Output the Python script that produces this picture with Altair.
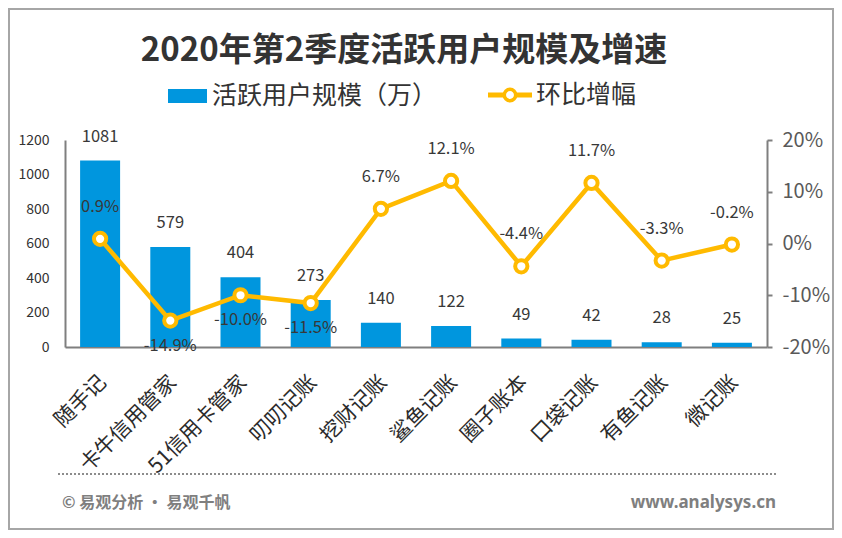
import altair as alt
import pandas as pd

apps = ["随手记", "卡牛信用管家", "51信用卡管家", "叨叨记账", "挖财记账",
        "鲨鱼记账", "圈子账本", "口袋记账", "有鱼记账", "微记账"]
users = [1081, 579, 404, 273, 140, 122, 49, 42, 28, 25]
growth = [0.9, -14.9, -10.0, -11.5, 6.7, 12.1, -4.4, 11.7, -3.3, -0.2]
below_labels = ["卡牛信用管家", "51信用卡管家", "叨叨记账"]

title_text = "2020年第2季度活跃用户规模及增速"
legend_bar = "活跃用户规模（万）"
legend_line = "环比增幅"
footer_left = "© 易观分析 · 易观千帆"
footer_right = "www.analysys.cn"

BLUE = "#0096DE"
GOLD = "#FFBA00"
DARK = "#333333"
GRAY = "#7F7F7F"
FONT = "Noto Sans CJK SC"

df = pd.DataFrame({
    "app": apps,
    "users": users,
    "growth": [g / 100 for g in growth],
    "glabel": [f"{g:.1f}%" for g in growth],
    "below": [a in below_labels for a in apps],
})

x_enc = alt.X("app:N", sort=apps, title=None,
              axis=alt.Axis(labelAngle=-45, labelAlign="right", labelBaseline="middle",
                            labelFontSize=21, labelColor="#2B2B2B", labelFont=FONT,
                            labelPadding=32, labelOffset=3, ticks=False, domainColor=GRAY,
                            domainWidth=2, grid=False))

base = alt.Chart(df)

y_users = alt.Y("users:Q", title=None, scale=alt.Scale(domain=[0, 1200]),
                axis=alt.Axis(orient="left", values=[0, 200, 400, 600, 800, 1000, 1200],
                              format="d", ticks=False, grid=False, domainColor=GRAY,
                              domainWidth=2, labelFontSize=14, labelColor=DARK,
                              labelFont=FONT, labelPadding=16))

bars = base.mark_bar(color=BLUE, size=40).encode(x=x_enc, y=y_users)
bar_text = base.mark_text(dy=-24, fontSize=16.5, color="#383838", font=FONT).encode(
    x=x_enc, y=y_users, text="users:Q")

y_growth = alt.Y("growth:Q", title=None, scale=alt.Scale(domain=[-0.2, 0.2]),
                 axis=alt.Axis(orient="right", values=[-0.2, -0.1, 0, 0.1, 0.2],
                               labelExpr="replace(format(datum.value, '.0%'), '\u2212', '-')",
                               ticks=True, tickSize=5, tickColor=GRAY, tickWidth=2,
                               grid=False, domainColor=GRAY, domainWidth=2,
                               labelFontSize=20, labelColor="#595959", labelFont=FONT,
                               labelPadding=10))

line = base.mark_line(color=GOLD, strokeWidth=4.5).encode(x=x_enc, y=y_growth)
points = base.mark_point(shape="circle", filled=True, fill="white", stroke=GOLD,
                         strokeWidth=4, size=150, opacity=1).encode(x=x_enc, y=y_growth)
line_text_above = base.transform_filter("!datum.below").mark_text(
    dy=-32, fontSize=16.5, color="#383838", font=FONT).encode(x=x_enc, y=y_growth, text="glabel:N")
line_text_below = base.transform_filter("datum.below").mark_text(
    dy=25, fontSize=16.5, color="#383838", font=FONT).encode(x=x_enc, y=y_growth, text="glabel:N")

one = pd.DataFrame({"k": [0]})
deco = alt.Chart(one)

border = deco.mark_rect(fillOpacity=0, stroke="#A6A6A6", strokeWidth=2).encode(
    x=alt.value(-56), x2=alt.value(768), y=alt.value(-131), y2=alt.value(389))
title = alt.Chart(pd.DataFrame({"t": [title_text]})).mark_text(
    fontSize=33, fontWeight="bold", color=DARK, font=FONT, align="center",
    baseline="middle").encode(x=alt.value(339), y=alt.value(-89), text="t:N")
leg_rect = deco.mark_rect(color=BLUE).encode(
    x=alt.value(103), x2=alt.value(142), y=alt.value(-51), y2=alt.value(-37))
leg_text1 = alt.Chart(pd.DataFrame({"t": [legend_bar]})).mark_text(
    fontSize=25, color=DARK, font=FONT, align="left", baseline="middle").encode(
    x=alt.value(147), y=alt.value(-44), text="t:N")
leg_line = deco.mark_rule(color=GOLD, strokeWidth=5).encode(
    x=alt.value(423), x2=alt.value(467), y=alt.value(-45))
leg_pt = deco.mark_point(shape="circle", filled=True, fill="white", stroke=GOLD,
                         strokeWidth=3.5, size=130, opacity=1).encode(
    x=alt.value(445), y=alt.value(-45))
leg_text2 = alt.Chart(pd.DataFrame({"t": [legend_line]})).mark_text(
    fontSize=25, color=DARK, font=FONT, align="left", baseline="middle").encode(
    x=alt.value(471), y=alt.value(-45), text="t:N")
foot_rule = deco.mark_rule(color="#8C8C8C", strokeWidth=2, strokeDash=[2, 2]).encode(
    x=alt.value(-7), x2=alt.value(711), y=alt.value(334))
foot_l = alt.Chart(pd.DataFrame({"t": [footer_left]})).mark_text(
    fontSize=16, fontWeight="bold", color=GRAY, font=FONT, align="left",
    baseline="middle").encode(x=alt.value(-3), y=alt.value(363), text="t:N")
foot_r = alt.Chart(pd.DataFrame({"t": [footer_right]})).mark_text(
    fontSize=17, fontWeight="bold", color=GRAY, font="Noto Sans", align="right",
    baseline="middle").encode(x=alt.value(711), y=alt.value(363), text="t:N")

left = alt.layer(bars, bar_text)
right = alt.layer(line, points, line_text_above, line_text_below)

chart = alt.layer(
    border, left, right, title, leg_rect, leg_text1, leg_line, leg_pt, leg_text2,
    foot_rule, foot_l, foot_r
).resolve_scale(y="independent").properties(
    width=702, height=207,
    autosize=alt.AutoSizeParams(type="none"),
    padding={"left": 57, "top": 132, "right": 67, "bottom": 183},
    background="white",
).configure_view(strokeWidth=0)

chart.save("out.html", embed_options={"renderer": "svg", "actions": False})
